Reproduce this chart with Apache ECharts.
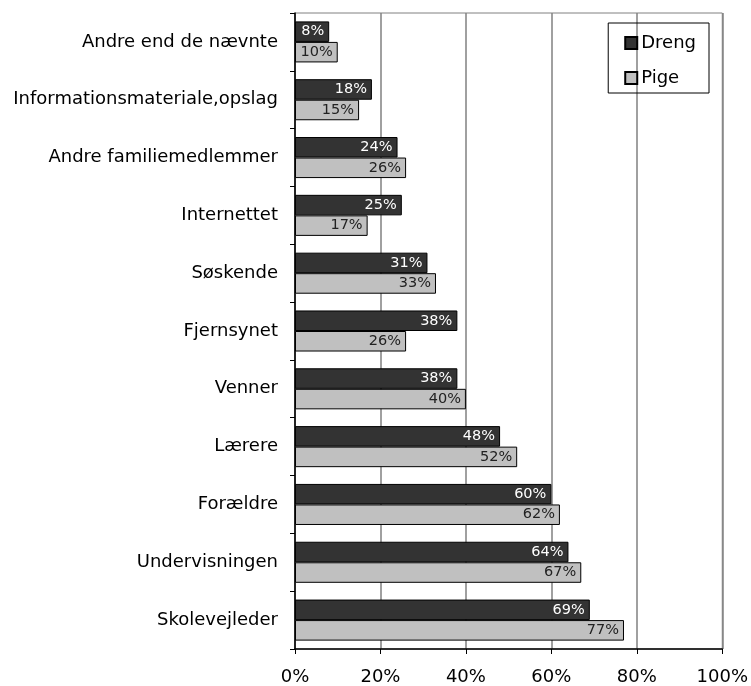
<!DOCTYPE html>
<html>
<head>
<meta charset="utf-8">
<script src="https://cdn.jsdelivr.net/npm/echarts@6/dist/echarts.min.js"></script>
<style>
  html, body { margin: 0; padding: 0; background: #fff; }
  #chart { width: 751px; height: 686px; }
</style>
</head>
<body>
<div id="chart"></div>
<script>
// Kilder til information (andel i procent), drenge og piger
const categories = [
  'Andre end de nævnte',
  'Informationsmateriale,opslag',
  'Andre familiemedlemmer',
  'Internettet',
  'Søskende',
  'Fjernsynet',
  'Venner',
  'Lærere',
  'Forældre',
  'Undervisningen',
  'Skolevejleder'
];
const dreng = [8, 18, 24, 25, 31, 38, 38, 48, 60, 64, 69];
const pige = [10, 15, 26, 17, 33, 26, 40, 52, 62, 67, 77];
const xTicks = [0, 20, 40, 60, 80, 100];

const font = "'DejaVu Sans', sans-serif";
const chart = echarts.init(document.getElementById('chart'), null, { renderer: 'canvas' });

function barLabel(color) {
  return {
    show: true,
    position: 'insideRight',
    distance: 5,
    formatter: p => p.value + '%',
    color: color,
    fontFamily: font,
    fontSize: 14.5
  };
}

chart.setOption({
  animation: false,
  backgroundColor: '#fff',
  grid: {
    left: 295, right: 26, top: 13, bottom: 37,
    show: true, borderColor: '#808080', borderWidth: 1,
    containLabel: false
  },
  legend: {
    orient: 'vertical',
    right: 42, top: 23,
    padding: [11, 13, 6, 16],
    icon: 'rect',
    itemWidth: 12, itemHeight: 12, itemGap: 17,
    borderColor: '#000', borderWidth: 1,
    textStyle: { fontFamily: font, fontSize: 18, color: '#000', padding: [0, 0, 0, -1] },
    data: ['Dreng', 'Pige']
  },
  xAxis: {
    type: 'value',
    min: xTicks[0], max: xTicks[xTicks.length - 1], interval: 20,
    axisLine: { show: true, lineStyle: { color: '#000', width: 1.5 } },
    axisTick: { show: true, length: 5, lineStyle: { color: '#000' } },
    axisLabel: { formatter: v => v + '%', fontFamily: font, fontSize: 18, color: '#000', margin: 19 },
    splitLine: { show: true, lineStyle: { color: '#808080', width: 1.5 } }
  },
  yAxis: {
    type: 'category',
    data: categories,
    inverse: true,
    axisLine: { show: true, lineStyle: { color: '#000', width: 1.5 } },
    axisTick: { show: true, length: 5, lineStyle: { color: '#000' } },
    axisLabel: { fontFamily: font, fontSize: 18, color: '#000', margin: 17 },
    splitLine: { show: false }
  },
  series: [
    {
      name: 'Dreng', type: 'bar', data: dreng,
      barGap: '0%', barCategoryGap: '29%',
      itemStyle: { color: '#333333', borderColor: '#000', borderWidth: 1 },
      label: barLabel('#fff')
    },
    {
      name: 'Pige', type: 'bar', data: pige,
      barGap: '0%', barCategoryGap: '29%',
      itemStyle: { color: '#c0c0c0', borderColor: '#000', borderWidth: 1 },
      label: barLabel('#222')
    }
  ]
});
</script>
</body>
</html>
